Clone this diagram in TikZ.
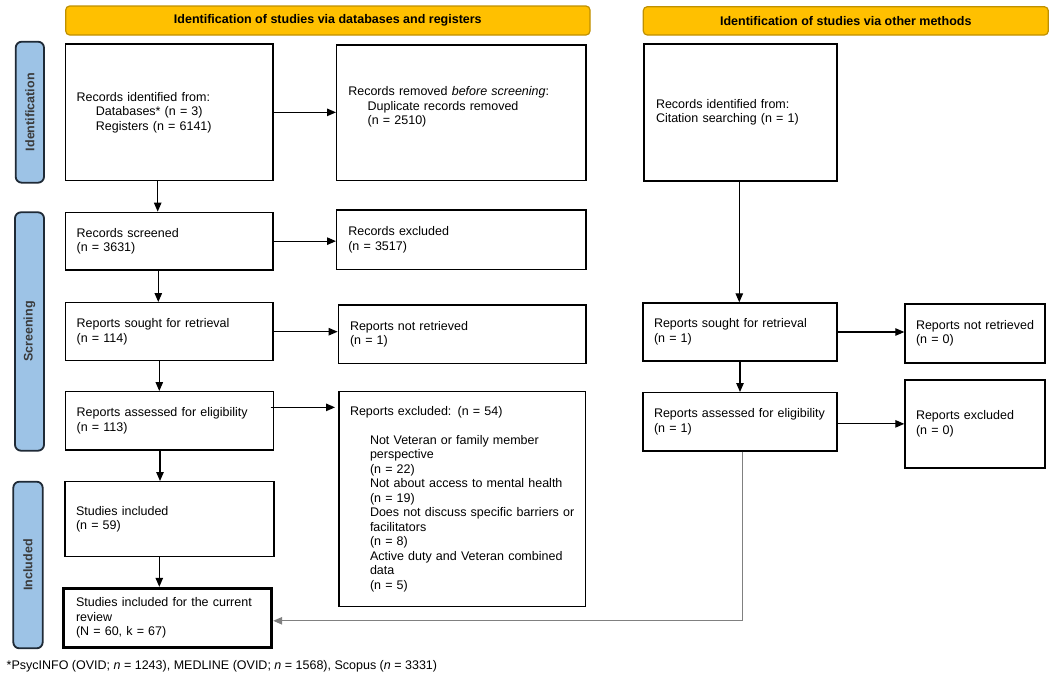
\documentclass[tikz,border=0pt]{standalone}
\usepackage{fontspec}
\setmainfont{Liberation Sans}
\usetikzlibrary{arrows.meta}
\definecolor{hdrfill}{HTML}{FFC000}
\definecolor{hdrline}{HTML}{BF9000}
\definecolor{sidefill}{HTML}{9DC3E6}
\definecolor{sideline}{HTML}{1F2A36}
\definecolor{sidetext}{HTML}{3A3A3A}
\definecolor{grayline}{HTML}{808080}
\hyphenpenalty=10000
\exhyphenpenalty=10000
\begin{document}
\begin{tikzpicture}[x=1pt,y=-1pt,
  font=\fontsize{12.5}{14.5}\selectfont,
  pbox/.style={draw, line width=1.4pt, align=left, inner xsep=11pt, inner ysep=0pt, anchor=center},
  hdr/.style={draw=hdrline, fill=hdrfill, line width=1.2pt, rounded corners=4pt, font=\fontsize{12.5}{14}\selectfont\bfseries, anchor=center},
  side/.style={draw=sideline, fill=sidefill, line width=1.8pt, rounded corners=6pt, rotate=90, font=\fontsize{12.5}{14}\selectfont\bfseries, text=sidetext, anchor=center, inner sep=0pt},
  arr/.style={line width=1.1pt, -{Triangle[length=9pt,width=7.5pt]}}
]
\useasboundingbox (0,0) rectangle (1053,675);

% headers
\node[hdr, minimum width=524.3pt, minimum height=29pt] (H1) at (327.85,20.5) {Identification of studies via databases and registers};
\node[hdr, minimum width=405pt, minimum height=28.3pt] (H2) at (845.8,20.85) {Identification of studies via other methods};

% side labels
\node[side, minimum width=141pt, minimum height=28.3pt] (S1) at (29.85,112.2) {Identification};
\node[side, minimum width=238.4pt, minimum height=29pt] (S2) at (29.5,331.5) {Screening};
\node[side, minimum width=166.6pt, minimum height=29.4pt] (S3) at (28,565) {Included};

% left column
\node[pbox, minimum height=136.7pt, text width=185.3pt] (A) at (169.3,112.35) {Records identified from:\\\hspace*{19.3pt}Databases* (n = 3)\\\hspace*{19.3pt}Registers (n = 6141)};
\node[pbox, minimum height=57.7pt, text width=185.3pt] (D) at (169.3,241.15) {Records screened\\(n = 3631)};
\node[pbox, minimum height=58pt, text width=185.3pt] (F) at (169.3,331.7) {Reports sought for retrieval\\(n = 114)};
\node[pbox, minimum height=58.3pt, text width=185.6pt] (H) at (169.5,420.85) {Reports assessed for eligibility\\(n = 113)};
\node[pbox, minimum height=75pt, text width=187pt] (J) at (169.5,519.2) {Studies included\\(n = 59)};
\node[pbox, line width=3pt, inner xsep=12.7pt, minimum height=59pt, text width=183pt] (K) at (167.5,617.8) {Studies included for the current\\review\\(N = 60, k = 67)};

% middle column
\node[pbox, inner xsep=11.6pt, minimum height=135.7pt, text width=226.1pt] (B) at (461.35,112.85) {Records removed \textit{before screening}:\\\hspace*{19.4pt}Duplicate records removed\\\hspace*{19.4pt}(n = 2510)\\\mbox{}};
\node[pbox, inner xsep=11.6pt, minimum height=59.3pt, text width=226.1pt] (E) at (461.35,239.65) {Records excluded\\(n = 3517)};
\node[pbox, inner xsep=11.7pt, minimum height=58.3pt, text width=224.3pt] (G) at (462.15,334.15) {Reports not retrieved\\(n = 1)};
\node[pbox, minimum height=215pt, text width=224.7pt] (I) at (462.35,499.2) {Reports excluded: (n = 54)\\[14.5pt]
\hspace*{20pt}Not Veteran or family member\\
\hspace*{20pt}perspective\\
\hspace*{20pt}(n = 22)\\
\hspace*{20pt}Not about access to mental health\\
\hspace*{20pt}(n = 19)\\
\hspace*{20pt}Does not discuss specific barriers or\\
\hspace*{20pt}facilitators\\
\hspace*{20pt}(n = 8)\\
\hspace*{20pt}Active duty and Veteran combined\\
\hspace*{20pt}data\\
\hspace*{20pt}(n = 5)};

% right columns
\node[pbox, inner xsep=12pt, minimum height=137pt, text width=169pt] (C) at (740.5,112.5) {Records identified from:\\Citation searching (n = 1)};
\node[pbox, minimum height=58pt, text width=172pt] (F2) at (740,332) {Reports sought for retrieval\\(n = 1)};
\node[pbox, minimum height=58.3pt, text width=172pt] (H2b) at (740,421.85) {Reports assessed for eligibility\\(n = 1)};
\node[pbox, minimum height=59pt, text width=118pt] (G2) at (975,333.5) {\mbox{Reports not retrieved}\\(n = 0)};
\node[pbox, minimum height=88pt, text width=118pt] (I2) at (975,424) {Reports excluded\\(n = 0)};

% arrows left
\draw[arr] (A.east) -- (A.east -| B.west);
\draw[arr] ([xshift=-11.6pt]A.south) -- ([xshift=-11.6pt]A.south |- D.north);
\draw[arr] (D.east) -- (D.east -| E.west);
\draw[arr] ([xshift=-11pt]D.south) -- ([xshift=-11pt]D.south |- F.north);
\draw[arr] (F.east) -- (F.east -| G.west);
\draw[arr] ([xshift=-10pt]F.south) -- ([xshift=-10pt]F.south |- H.north);
\draw[arr] ([xshift=-3.3pt,yshift=13.5pt]H.east) -- ([xshift=-3.3pt,yshift=13.5pt]H.east -| I.west);
\draw[arr] ([xshift=-9.5pt]H.south) -- ([xshift=-9.5pt]H.south |- J.north);
\draw[arr] ([xshift=-10.2pt]J.south) -- ([xshift=-10.2pt]J.south |- K.north);

% arrows right
\draw[arr] ([xshift=-1.2pt]C.south) -- ([xshift=-1.2pt]C.south |- F2.north);
\draw[arr] (F2.east) -- (F2.east -| G2.west);
\draw[arr] (F2.south) -- (H2b.north);
\draw[arr] ([yshift=-2pt]H2b.east) -- ([yshift=-2pt]H2b.east -| I2.west);
\draw[arr, draw=grayline] ([xshift=2.3pt]H2b.south) |- ([yshift=-3pt]K.east);

% footnote
\node[anchor=west, inner sep=0pt] (fn) at (6.5,666.7) {*PsycINFO (OVID; \textit{n} = 1243), MEDLINE (OVID; \textit{n} = 1568), Scopus (\textit{n} = 3331)};
\end{tikzpicture}
\end{document}
